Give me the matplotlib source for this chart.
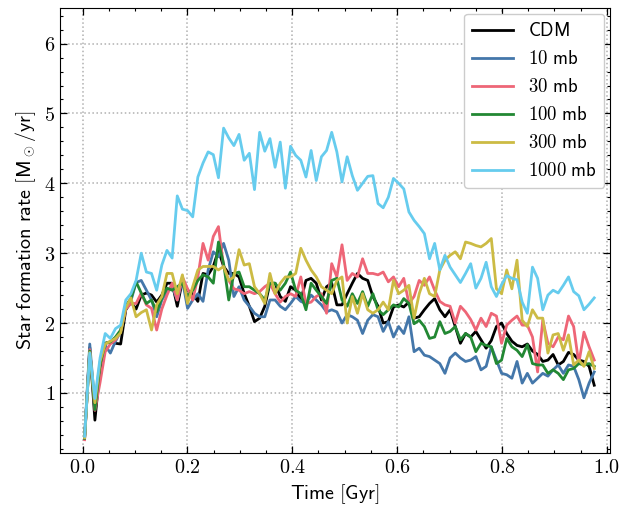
import numpy as np
import matplotlib.pyplot as plt
from matplotlib.ticker import MultipleLocator, FuncFormatter

plt.rcParams['mathtext.fontset'] = 'cm'

# Snapshot times (Gyr)
time = np.linspace(0.004, 0.976, 100)

labels = ['CDM', '10 mb', '30 mb', '100 mb', '300 mb', '1000 mb']
colors = ['black', '#4477AA', '#EE6677', '#228833', '#CCBB44', '#66CCEE']

sfr_cdm = [
    0.35, 1.65, 0.61, 1.35, 1.71, 1.73, 1.71, 1.70, 2.19, 2.30,
    2.20, 2.40, 2.43, 2.40, 2.30, 2.40, 2.57, 2.57, 2.24, 2.61,
    2.47, 2.42, 2.31, 2.71, 2.69, 2.81, 3.04, 2.81, 2.71, 2.71,
    2.66, 2.42, 2.24, 2.02, 2.07, 2.24, 2.57, 2.57, 2.38, 2.31,
    2.52, 2.47, 2.33, 2.61, 2.64, 2.57, 2.33, 2.52, 2.57, 2.26,
    2.26, 2.42, 2.57, 2.71, 2.64, 2.61, 2.38, 2.24, 2.00, 2.02,
    2.23, 2.26, 2.23, 2.30, 2.07, 2.09, 2.19, 2.28, 2.35, 2.19,
    2.09, 2.19, 1.95, 1.71, 1.85, 1.80, 1.88, 1.76, 1.64, 1.75,
    1.95, 2.00, 1.85, 1.74, 1.68, 1.66, 1.70, 1.60, 1.55, 1.45,
    1.47, 1.55, 1.40, 1.45, 1.58, 1.55, 1.47, 1.45, 1.38, 1.11,
]
sfr_10mb = [
    0.37, 1.70, 0.80, 1.40, 1.68, 1.57, 1.74, 1.88, 2.23, 2.32,
    2.58, 2.61, 2.47, 2.33, 2.09, 2.33, 2.45, 2.52, 2.33, 2.61,
    2.21, 2.33, 2.42, 2.31, 2.76, 3.02, 2.95, 3.14, 2.90, 2.38,
    2.52, 2.33, 2.24, 2.14, 2.09, 2.09, 2.33, 2.33, 2.24, 2.19,
    2.28, 2.38, 2.31, 2.28, 2.40, 2.33, 2.26, 2.16, 2.19, 2.16,
    2.00, 2.12, 2.09, 2.04, 1.85, 2.04, 2.12, 2.09, 1.88, 2.02,
    1.80, 1.95, 1.85, 2.09, 1.59, 1.64, 1.54, 1.52, 1.47, 1.42,
    1.28, 1.50, 1.57, 1.50, 1.45, 1.47, 1.52, 1.33, 1.38, 1.66,
    1.47, 1.28, 1.26, 1.21, 1.45, 1.14, 1.28, 1.14, 1.21, 1.28,
    1.24, 1.33, 1.40, 1.28, 1.40, 1.38, 1.19, 0.93, 1.14, 1.30,
]
sfr_30mb = [
    0.33, 1.62, 0.75, 1.15, 1.59, 1.70, 1.76, 1.88, 2.20, 2.28,
    2.28, 2.43, 2.26, 2.21, 1.90, 2.20, 2.40, 2.57, 2.33, 2.66,
    2.49, 2.33, 2.66, 3.14, 2.90, 3.24, 3.38, 2.81, 2.61, 2.49,
    2.47, 2.42, 2.45, 2.42, 2.45, 2.52, 2.57, 2.42, 2.30, 2.38,
    2.42, 2.38, 2.66, 2.28, 2.30, 2.38, 2.42, 2.14, 2.85, 2.66,
    3.12, 2.61, 2.71, 2.66, 2.92, 2.71, 2.71, 2.69, 2.73, 2.59,
    2.66, 2.52, 2.64, 2.28, 2.38, 2.61, 2.54, 2.66, 2.47, 2.31,
    2.26, 2.24, 2.00, 2.24, 2.16, 2.05, 1.90, 2.07, 1.95, 2.14,
    2.10, 1.71, 1.97, 2.04, 2.10, 1.97, 1.97, 1.80, 1.30, 2.04,
    1.71, 1.66, 1.80, 1.76, 2.10, 1.95, 1.42, 1.87, 1.66, 1.47,
]
sfr_100mb = [
    0.35, 1.60, 0.76, 1.40, 1.71, 1.73, 1.80, 1.90, 2.25, 2.35,
    2.59, 2.43, 2.28, 2.33, 2.16, 2.36, 2.50, 2.47, 2.52, 2.57,
    2.38, 2.47, 2.61, 2.69, 2.66, 2.57, 3.16, 2.85, 2.33, 2.71,
    2.73, 2.52, 2.52, 2.47, 2.42, 2.33, 2.57, 2.57, 2.47, 2.57,
    2.73, 2.47, 2.42, 2.19, 2.57, 2.47, 2.38, 2.28, 2.61, 2.64,
    2.33, 2.24, 2.42, 2.28, 2.45, 2.24, 2.42, 2.19, 2.12, 2.19,
    2.26, 2.23, 2.35, 2.28, 1.99, 2.04, 1.95, 1.78, 1.80, 2.02,
    1.85, 1.88, 1.95, 1.76, 1.85, 1.80, 1.59, 1.71, 1.68, 1.66,
    1.42, 1.47, 1.78, 1.66, 1.61, 1.52, 1.69, 1.42, 1.40, 1.40,
    1.28, 1.33, 1.28, 1.19, 1.33, 1.35, 1.42, 1.40, 1.42, 1.38,
]
sfr_300mb = [
    0.36, 1.58, 0.86, 1.45, 1.70, 1.74, 1.78, 1.86, 2.22, 2.36,
    2.09, 2.15, 2.19, 1.90, 2.26, 2.38, 2.71, 2.71, 2.42, 2.69,
    2.28, 2.52, 2.76, 2.81, 2.81, 2.81, 2.76, 2.81, 2.61, 2.66,
    3.05, 2.83, 2.85, 2.52, 2.42, 2.28, 2.71, 2.42, 2.57, 2.66,
    2.66, 2.71, 3.07, 2.90, 2.76, 2.66, 2.52, 2.47, 2.42, 2.61,
    2.66, 2.00, 2.38, 2.14, 2.42, 2.19, 2.14, 2.19, 2.30, 2.19,
    2.61, 2.42, 2.47, 2.54, 2.07, 2.42, 2.64, 2.42, 2.38, 2.76,
    2.90, 2.97, 3.02, 2.92, 3.16, 3.14, 3.11, 3.09, 3.14, 3.21,
    2.49, 2.42, 2.76, 2.49, 2.90, 2.04, 1.95, 2.19, 2.07, 2.07,
    1.57, 1.83, 1.85, 1.61, 1.83, 1.40, 1.47, 1.38, 1.59, 1.35,
]
sfr_1000mb = [
    0.38, 1.57, 0.92, 1.50, 1.85, 1.78, 1.92, 1.97, 2.33, 2.42,
    2.61, 3.00, 2.73, 2.71, 2.47, 2.83, 3.04, 2.93, 3.82, 3.63,
    3.61, 3.52, 4.09, 4.29, 4.45, 4.41, 4.08, 4.79, 4.65, 4.54,
    4.70, 4.33, 4.43, 3.91, 4.73, 4.46, 4.64, 4.23, 4.59, 3.93,
    4.53, 4.40, 4.33, 4.09, 4.47, 4.04, 4.38, 4.47, 4.73, 4.45,
    4.02, 4.38, 4.11, 3.90, 4.00, 4.10, 4.11, 3.71, 3.65, 3.80,
    4.07, 4.00, 3.92, 3.59, 3.47, 3.38, 3.28, 2.92, 3.14, 2.76,
    2.97, 2.80, 2.69, 2.58, 2.71, 2.85, 2.50, 2.64, 2.87, 2.52,
    2.38, 2.55, 2.68, 2.64, 2.62, 2.30, 2.14, 2.80, 2.64, 2.19,
    2.40, 2.47, 2.43, 2.54, 2.66, 2.45, 2.39, 2.19, 2.27, 2.36,
]
all_sfr = [sfr_cdm, sfr_10mb, sfr_30mb, sfr_100mb, sfr_300mb, sfr_1000mb]

fig = plt.figure(figsize=(6.26, 5.14), dpi=100)
ax = fig.add_axes([0.0958, 0.1187, 0.8786, 0.8658])

for sfr, lab, col in zip(all_sfr, labels, colors):
    ax.plot(time, sfr, color=col, lw=2.0, label=r'$\mathsf{%s}$' % lab.replace(' ', r'\ '))

ax.set_xlim(-0.043, 1.006)
ax.set_ylim(0.14, 6.51)
ax.xaxis.set_major_locator(MultipleLocator(0.2))
ax.xaxis.set_minor_locator(MultipleLocator(0.05))
ax.yaxis.set_major_locator(MultipleLocator(1))
ax.yaxis.set_minor_locator(MultipleLocator(0.2))
ax.xaxis.set_major_formatter(FuncFormatter(lambda v, p: r'$%.1f$' % v))
ax.yaxis.set_major_formatter(FuncFormatter(lambda v, p: r'$%d$' % round(v)))
ax.tick_params(which='both', direction='in', top=True, right=True, labelsize=14.5)
ax.tick_params(which='major', length=5, width=0.9)
ax.tick_params(which='minor', length=2.5, width=0.8)
ax.grid(True, which='major', linestyle=':', color='#b0b0b0', lw=1.1)

ax.set_xlabel(r'$\mathsf{Time\ [Gyr]}$', fontsize=14.5)
ax.set_ylabel(r'$\mathsf{Star\ formation\ rate\ [M_\odot/yr]}$', fontsize=14.5)

leg = ax.legend(loc='upper right', fontsize=13.5, framealpha=1, edgecolor='#cccccc',
                handlelength=2.2, labelspacing=0.48, borderaxespad=0.3)

fig.savefig('out.png', dpi=100)
